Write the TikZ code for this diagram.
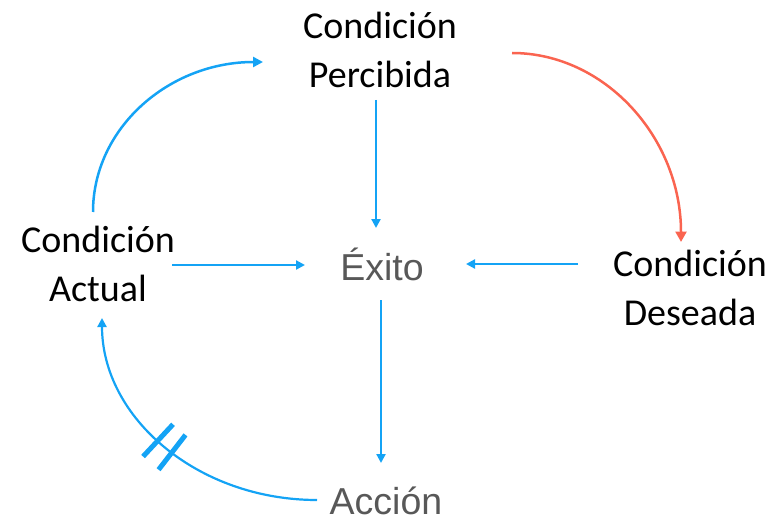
\documentclass[tikz,border=0pt]{standalone}
\usepackage{fontspec}
\newfontfamily\calib{Carlito}
\newfontfamily\helv{Liberation Sans}
\usetikzlibrary{arrows.meta}
\definecolor{cblue}{RGB}{20,163,245}
\definecolor{cred}{RGB}{250,100,80}
\definecolor{cgray}{RGB}{88,88,88}
\tikzset{
  blk/.style={inner sep=0pt, align=center, text=black, font=\calib\fontsize{38pt}{49pt}\selectfont},
  gry/.style={inner sep=0pt, anchor=base, text=cgray, font=\helv\fontsize{37.5pt}{45pt}\selectfont},
  bline/.style={draw=cblue, line width=2.2pt, -{Triangle[length=9pt,width=9pt]}},
  bcurve/.style={draw=cblue, line width=2.5pt, -{Triangle[length=10pt,width=10pt]}},
  rcurve/.style={draw=cred, line width=2.5pt, -{Triangle[length=10.5pt,width=11pt]}},
  hbar/.style={fill=cblue, draw=none, inner sep=0pt, minimum width=5pt, minimum height=44pt, sloped}
}
\begin{document}
\begin{tikzpicture}[x=1pt,y=1pt]
\useasboundingbox (0,0) rectangle (775,-521);
\node[blk] (perc) at (380,-50) {Condición\\Percibida};
\node[blk] (act) at (98,-264) {Condición\\Actual};
\node[blk] (des) at (690,-288) {Condición\\Deseada};
\node[gry] (exito) at (382,-280) {Éxito};
\node[gry] (accion) at (386,-514) {Acción};
% straight arrows
\draw[bline] ([shift={(-4,-50)}]perc.center) -- ([shift={(-6,52)}]exito.base);
\draw[bline] ([shift={(74,-1)}]act.center) -- ([shift={(-77,15)}]exito.base);
\draw[bline] ([shift={(-112,24)}]des.center) -- ([shift={(84,16)}]exito.base);
\draw[bline] ([shift={(-1,-20)}]exito.base) -- ([shift={(-5,51)}]accion.base);
% curves
\draw[bcurve] ([shift={(-5,52)}]act.center) .. controls +(0,84) and +(-94,0) .. ([shift={(-117,-12)}]perc.center);
\draw[rcurve] ([shift={(132,-3)}]perc.center) .. controls +(93,0) and +(0,104) .. ([shift={(-9,46)}]des.center);
\draw[draw=cblue, line width=2.2pt, -{Triangle[length=9pt,width=9pt]}] ([shift={(-69,14)}]accion.base) .. controls +(-119,0) and +(0,-100) .. ([shift={(4,-54)}]act.center)
  node[hbar, pos=0.47] (h1) {} node[hbar, pos=0.53] (h2) {};
\end{tikzpicture}
\end{document}
